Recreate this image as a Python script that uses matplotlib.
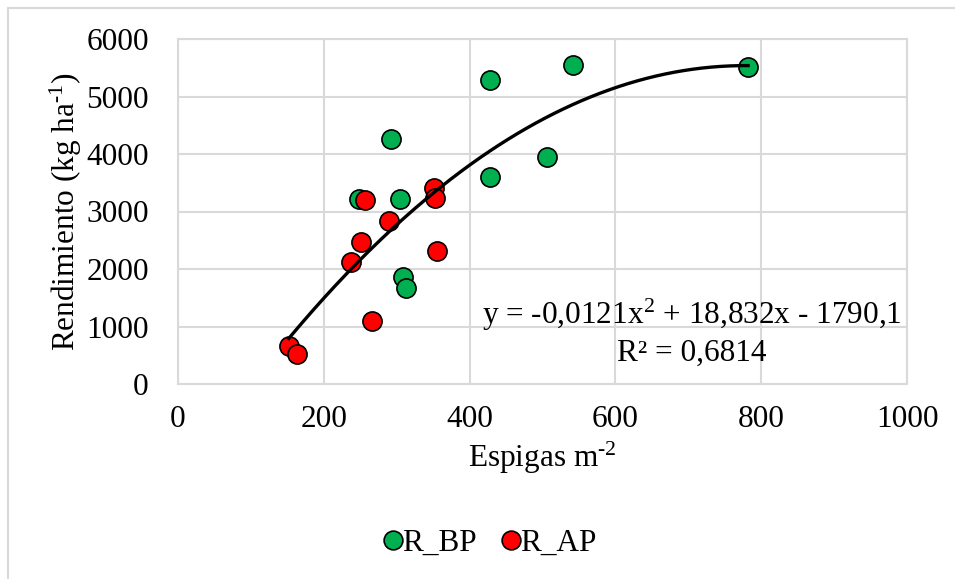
import numpy as np
import matplotlib
matplotlib.use("Agg")
import matplotlib.pyplot as plt
from matplotlib.lines import Line2D

plt.rcParams['font.family'] = ['Liberation Serif', 'DejaVu Serif']
plt.rcParams['mathtext.fontset'] = 'custom'
plt.rcParams['mathtext.rm'] = 'Liberation Serif'
plt.rcParams['mathtext.it'] = 'Liberation Serif'

# Data
bp_x = [248, 292, 304, 308, 313, 428, 428, 506, 542, 782]
bp_y = [3217, 4260, 3217, 1866, 1675, 5287, 3594, 3954, 5548, 5518]
ap_x = [152, 163, 237, 251, 256, 266, 290, 351, 353, 355]
ap_y = [661, 516, 2116, 2470, 3200, 1096, 2840, 3414, 3229, 2313]
coef = [-0.0121, 18.832, -1790.1]
x_ticks = [0, 200, 400, 600, 800, 1000]
y_ticks = [0, 1000, 2000, 3000, 4000, 5000, 6000]

W, H = 955, 579
FS = 22.5
fig = plt.figure(figsize=(W/100, H/100), dpi=100)
ax = fig.add_axes([178/W, 1-384/H, (907-178)/W, (384-39)/H])

grid_c = '#d9d9d9'
ax.set_xlim(0, 1000)
ax.set_ylim(0, 6000)
ax.set_xticks(x_ticks)
ax.set_yticks(y_ticks)
ax.grid(True, color=grid_c, linewidth=1.5, zorder=0)
for s in ax.spines.values():
    s.set_color(grid_c)
    s.set_linewidth(1.5)
ax.tick_params(length=0, labelsize=FS)
ax.tick_params(axis='x', pad=15)
ax.tick_params(axis='y', pad=21)

green = '#00b050'
red = '#ff0000'
ax.scatter(bp_x, bp_y, s=190, c=green, edgecolors='black', linewidths=1.2, zorder=3)
ax.scatter(ap_x, ap_y, s=190, c=red, edgecolors='black', linewidths=1.2, zorder=3)

allx = bp_x + ap_x
xs = np.linspace(min(allx), max(allx), 200)
ax.plot(xs, np.polyval(coef, xs), color='black', linewidth=2.4, zorder=4)

ax.set_xlabel(r'Espigas m$^{\text{-2}}$', fontsize=FS, labelpad=4)
ax.set_ylabel(r'Rendimiento (kg ha$^{\text{-1}}$)', fontsize=FS, labelpad=2)

fig.text(692/W, 1-315/H, r'y = -0,0121x$^{\text{2}}$ + 18,832x - 1790,1', fontsize=FS,
         ha='center', va='center')
fig.text(692/W, 1-353/H, 'R² = 0,6814', fontsize=FS, ha='center', va='center')

handles = [Line2D([], [], marker='o', linestyle='none', markersize=13.5,
                  markerfacecolor=green, markeredgecolor='black', markeredgewidth=1.2),
           Line2D([], [], marker='o', linestyle='none', markersize=13.5,
                  markerfacecolor=red, markeredgecolor='black', markeredgewidth=1.2)]
fig.legend(handles, ['R_BP', 'R_AP'], loc='center', bbox_to_anchor=(487/W, 1-543/H),
           ncol=2, frameon=False, fontsize=FS, handletextpad=-0.2, columnspacing=0.6,
           handlelength=1.0)

# outer chart border (top and left visible)
fig.add_artist(Line2D([8/W, 1], [1-8/H, 1-8/H], color=grid_c, linewidth=1.5))
fig.add_artist(Line2D([8/W, 8/W], [0, 1-8/H], color=grid_c, linewidth=1.5))

fig.savefig('out.png', dpi=100)
